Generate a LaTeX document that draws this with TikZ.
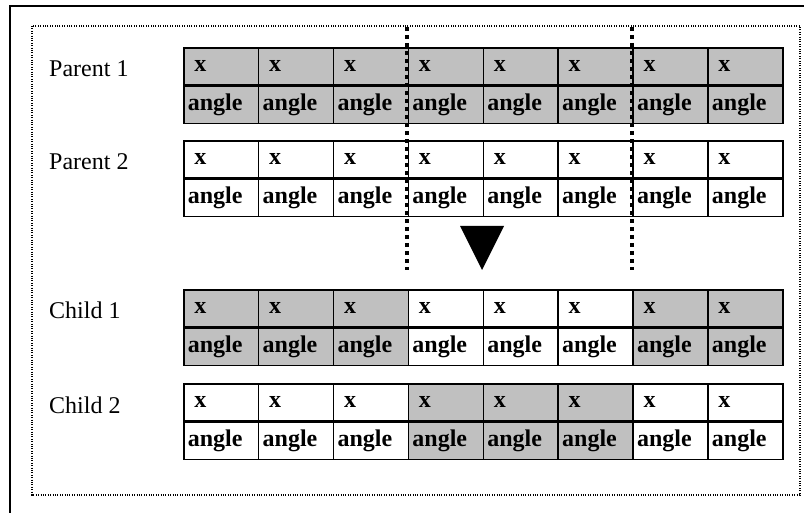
\documentclass[tikz,border=0pt]{standalone}
\usepackage{fontspec}
\setmainfont{Liberation Serif}
\definecolor{cellgray}{RGB}{192,192,192}
\tikzset{
  cell/.style={draw=black, line width=1.6pt, rectangle, minimum width=74.875pt,
    minimum height=37pt, inner xsep=4pt, inner ysep=0pt, text width=66.875pt,
    align=left, font=\bfseries\fontsize{24}{28}\selectfont},
  lab/.style={inner sep=0pt, anchor=base west, font=\fontsize{24}{28}\selectfont},
  cutline/.style={line width=3.2pt, dash pattern=on 4pt off 4pt},
  frameline/.style={line width=1.3pt, black, dash pattern=on 1.1pt off 1.3pt},
  outerline/.style={line width=2pt}
}
\newcommand\cellrow[4]{%
  \node[lab] (#1lab) at (49,#2+30) {#4};
  \foreach \c in {1,...,8}{
    \pgfmathtruncatemacro\f{{#3}[\c-1]}
    \pgfmathsetmacro\xl{183+74.875*(\c-1)}
    \ifnum\f=1 \def\cf{cellgray}\else\def\cf{white}\fi
    \node[cell, fill=\cf, anchor=north west] (#1x\c) at (\xl,#2) {\hspace{6.5pt}x};
    \node[cell, fill=\cf, anchor=north] (#1a\c) at (#1x\c.south) {angle};
  }
}
\begin{document}
\begin{tikzpicture}[x=1pt,y=-1pt]
\useasboundingbox (0,0) rectangle (804,513);
% outer frame lines
\coordinate (obl) at (10,513);
\coordinate (otl) at (10,6);
\coordinate (otr) at (804,6);
\draw[outerline] (obl) -- (otl) -- (otr);
% dotted frame
\coordinate (ftl) at (32,26);
\coordinate (fbr) at (800,495);
\draw[frameline] (ftl) rectangle (fbr);
% rows
\cellrow{pa}{47}{1,1,1,1,1,1,1,1}{Parent 1}
\cellrow{pb}{140}{0,0,0,0,0,0,0,0}{Parent 2}
\cellrow{ca}{289}{1,1,1,0,0,0,1,1}{Child 1}
\cellrow{cb}{383}{0,0,0,1,1,1,0,0}{Child 2}
% cut lines
\coordinate (cut1t) at (407,27);
\coordinate (cut1b) at (407,270);
\coordinate (cut2t) at (632,27);
\coordinate (cut2b) at (632,270);
\draw[cutline] (cut1t) -- (cut1b);
\draw[cutline] (cut2t) -- (cut2b);
% arrow triangle
\fill (460,226) -- (504,226) -- (482,270) -- cycle;
\end{tikzpicture}
\end{document}
